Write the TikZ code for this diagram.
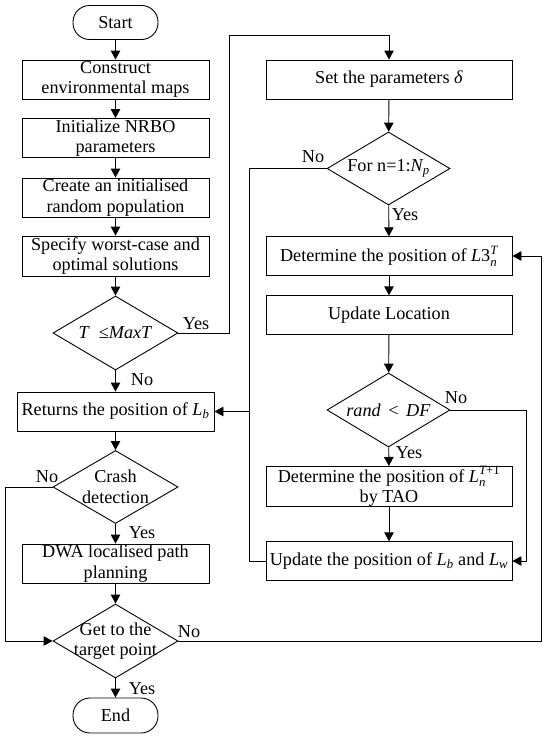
\documentclass[tikz,border=0pt]{standalone}
\usepackage{amsmath}
\usepackage{fontspec}
\setmainfont{Liberation Serif}
\usetikzlibrary{arrows.meta,shapes.geometric}
\newcommand{\fsz}{\fontsize{18.2}{20.5}\selectfont}
\newcommand{\vi}[1]{\text{\itshape #1}}
\begin{document}
\begin{tikzpicture}[x=1pt,y=-1pt,
  line width=0.9pt,
  box/.style={draw, align=center, font=\fsz, inner sep=0pt},
  lbox/.style={box, minimum width=187pt, minimum height=39pt},
  rbox/.style={box, minimum width=246pt, minimum height=38.5pt},
  dia/.style={draw, diamond, inner sep=0pt, minimum width=125pt, minimum height=74pt},
  term/.style={draw, rounded corners=16.5pt, minimum width=85pt, minimum height=34pt, font=\fsz, inner sep=1pt},
  txt/.style={font=\fsz, align=center, inner sep=0pt},
  lab/.style={font=\fsz, inner sep=1pt},
  arr/.style={-{Triangle[length=9pt,width=9.5pt]}}]
\useasboundingbox (0,0) rectangle (550,739);
% left column
\node[term] (start) at (115.5,22.5) {Start};
\node[lbox] (cons) at (115.5,79.5) {Construct\\environmental maps};
\node[lbox] (init) at (115.5,138) {Initialize NRBO\\parameters};
\node[lbox] (create) at (115.5,197.5) {Create an initialised\\random population};
\node[lbox, minimum height=40pt] (spec) at (115.5,256) {Specify worst-case and\\optimal solutions};
\node[dia] (d1) at (115.5,333) {};
\node[txt] (d1t) at (115.5,333) {\textit{T}\ \ ≤\textit{MaxT}};
\node[box, minimum width=197pt, minimum height=39pt] (ret) at (115.5,411.5) {Returns the position of $\vi{L}_{\vi{b}}$};
\node[dia, minimum height=73pt] (crash) at (115.5,487) {};
\node[txt] (crasht) at (115.5,487) {Crash\\detection};
\node[lbox] (dwa) at (115.5,563.5) {DWA localised path\\planning};
\node[dia] (get) at (115.5,641) {};
\node[txt] (gett) at (115.5,641) {Get to the\\target point};
\node[term, minimum height=35pt, rounded corners=17pt] (end) at (115.5,715.5) {End};
% right column
\node[rbox, minimum height=39pt] (set) at (389,79.5) {Set the parameters \textit{δ}};
\node[dia, minimum width=123pt, minimum height=73pt] (for) at (388.5,168.5) {};
\node[txt] (fort) at (388.5,168.5) {For n=1:$\vi{N}_{\vi{p}}$};
\node[rbox] (det) at (389,256) {Determine the position of $\vi{L}\text{3}_{\vi{n}}^{\vi{T}}$};
\node[rbox] (upd) at (389,315) {Update Location};
\node[dia, minimum width=123pt] (rand) at (388.5,410) {};
\node[txt] (randt) at (388.5,410) {\textit{rand} \,<\, \textit{DF}};
\node[rbox, minimum height=39pt] (detT) at (389,486.5) {Determine the position of $\vi{L}_{\vi{n}}^{\vi{T}\text{+1}}$\\by TAO};
\node[rbox] (updLb) at (389,561) {Update the position of $\vi{L}_{\vi{b}}$ and $\vi{L}_{\vi{w}}$};
% coordinates
\coordinate (yA) at (229,333);
\coordinate (yB) at (229,35);
\coordinate (yC) at (389,35);
\coordinate (nA) at (249,168.5);
\coordinate (nB) at (249,561);
\coordinate (nM) at (249,411.5);
\coordinate (rA) at (526,410);
\coordinate (rB) at (526,561);
\coordinate (cA) at (5,487);
\coordinate (cB) at (5,641);
\coordinate (gA) at (541,641);
\coordinate (gB) at (541,256);
% left connectors
\draw[arr] (start) -- (cons);
\draw[arr] (cons) -- (init);
\draw[arr] (init) -- (create);
\draw[arr] (create) -- (spec);
\draw[arr] (spec) -- (d1);
\draw[arr] (d1) -- (ret);
\draw[arr] (ret) -- (crash);
\draw[arr] (crash) -- (dwa);
\draw[arr] (dwa) -- (get);
\draw[arr] (get) -- (end);
\draw[arr] (d1.east) -- (yA) -- (yB) -- (yC) -- (set.north);
\draw[arr] (crash.west) -- (cA) -- (cB) -- (get.west);
\draw[arr] (get.east) -- (gA) -- (gB) -- (det.east);
% right connectors
\draw[arr] (set) -- (for);
\draw[arr] (for) -- (det);
\draw[arr] (det) -- (upd);
\draw[arr] (upd) -- (rand);
\draw[arr] (rand) -- (detT);
\draw[arr] (detT) -- (updLb);
\draw (for.west) -- (nA) -- (nB) -- (updLb.west);
\draw[arr] (nM) -- (ret.east);
\draw[arr] (rand.east) -- (rA) -- (rB) -- (updLb.east);
% labels
\node[lab] (l1) at (196,324) {Yes};
\node[lab] (l2) at (142,380) {No};
\node[lab] (l3) at (47,477) {No};
\node[lab] (l4) at (142,533) {Yes};
\node[lab] (l5) at (189,632) {No};
\node[lab] (l6) at (142,689) {Yes};
\node[lab] (l7) at (313,157) {No};
\node[lab] (l8) at (405,215) {Yes};
\node[lab] (l9) at (456,398) {No};
\node[lab] (l10) at (409,453) {Yes};
\end{tikzpicture}
\end{document}
